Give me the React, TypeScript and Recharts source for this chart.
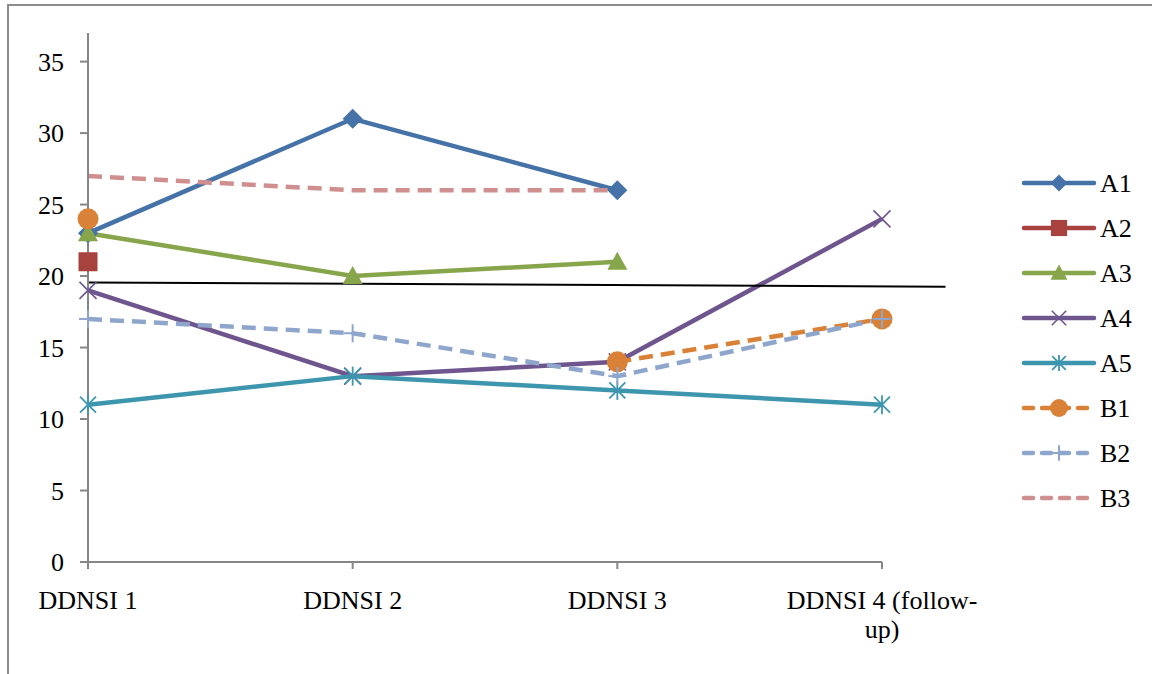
import React from 'react';
import { LineChart, Line, XAxis, YAxis, ReferenceLine } from 'recharts';

// categories (x index -> label lines)
const categories = ['DDNSI 1', 'DDNSI 2', 'DDNSI 3', 'DDNSI 4 (follow-up)'];
const categoryLines = [['DDNSI 1'], ['DDNSI 2'], ['DDNSI 3'], ['DDNSI 4 (follow-', 'up)']];

// series values, null = no measurement
const a1 = [23, 31, 26, null];
const a2 = [21, null, null, null];
const a3 = [23, 20, 21, null];
const a4 = [19, 13, 14, 24];
const a5 = [11, 13, 12, 11];
const b1 = [24, null, 14, 17];
const b2 = [17, 16, 13, 17];
const b3 = [27, 26, 26, null];

const yTicks = [0, 5, 10, 15, 20, 25, 30, 35];

// hand-drawn black line across the chart (start / end)
const cutLine = [
  { x: 0, y: 19.55 },
  { x: 3.24, y: 19.25 },
];

const series = [
  { key: 'A1', values: a1, color: '#4572A7', shape: 'diamond', dashed: false },
  { key: 'A2', values: a2, color: '#A8423F', shape: 'square', dashed: false },
  { key: 'A3', values: a3, color: '#87A54B', shape: 'triangle', dashed: false },
  { key: 'A4', values: a4, color: '#6E558E', shape: 'x', dashed: false },
  { key: 'A5', values: a5, color: '#3E96AE', shape: 'asterisk', dashed: false },
  { key: 'B1', values: b1, color: '#DA8138', shape: 'circle', dashed: true },
  { key: 'B2', values: b2, color: '#8FA6CC', shape: 'plus', dashed: true },
  { key: 'B3', values: b3, color: '#CF8F8E', shape: 'none', dashed: true },
];

const data = categories.map((name, i) => {
  const row: any = { idx: i, name };
  series.forEach((s) => {
    row[s.key] = s.values[i];
  });
  return row;
});

const FONT = '"Liberation Serif", "Times New Roman", serif';

function marker(shape: string, cx: number, cy: number, color: string, k = 1) {
  const h = 10 * k;
  switch (shape) {
    case 'diamond':
      return <polygon points={`${cx},${cy - h} ${cx + h},${cy} ${cx},${cy + h} ${cx - h},${cy}`} fill={color} />;
    case 'square':
      return <rect x={cx - 9.5 * k} y={cy - 9.5 * k} width={19 * k} height={19 * k} fill={color} />;
    case 'triangle':
      return <polygon points={`${cx},${cy - h} ${cx + h},${cy + 8 * k} ${cx - h},${cy + 8 * k}`} fill={color} />;
    case 'x': {
      const d = 8.5 * k;
      return (
        <g stroke={color} strokeWidth={1.6}>
          <line x1={cx - d} y1={cy - d} x2={cx + d} y2={cy + d} />
          <line x1={cx - d} y1={cy + d} x2={cx + d} y2={cy - d} />
        </g>
      );
    }
    case 'asterisk': {
      const d = 8 * k;
      return (
        <g stroke={color} strokeWidth={1.8}>
          <line x1={cx - d} y1={cy - d} x2={cx + d} y2={cy + d} />
          <line x1={cx - d} y1={cy + d} x2={cx + d} y2={cy - d} />
          <line x1={cx} y1={cy - 9.5 * k} x2={cx} y2={cy + 9.5 * k} />
        </g>
      );
    }
    case 'circle':
      return <circle cx={cx} cy={cy} r={10.5 * k} fill={color} />;
    case 'plus': {
      const d = 9 * k;
      return (
        <g stroke={color} strokeWidth={2}>
          <line x1={cx - d} y1={cy} x2={cx + d} y2={cy} />
          <line x1={cx} y1={cy - d} x2={cx} y2={cy + d} />
        </g>
      );
    }
    default:
      return null;
  }
}

const makeDot = (shape: string, color: string) => (props: any) => {
  const { cx, cy, index, value } = props;
  if (value == null || cy == null || isNaN(cy)) return <g key={`e-${index}`} />;
  return <g key={`d-${index}`}>{marker(shape, cx, cy, color)}</g>;
};

const XTick = (props: any) => {
  const { x, y, payload } = props;
  const lines = categoryLines[payload.value] || [];
  return (
    <text x={x} y={y} textAnchor="middle" fill="#000" fontSize={26} fontFamily={FONT}>
      {lines.map((l, i) => (
        <tspan key={i} x={x} dy={i === 0 ? 38 : 29}>
          {l}
        </tspan>
      ))}
    </text>
  );
};

const Legend = () => (
  <svg width={1152} height={674} style={{ position: 'absolute', left: 0, top: 0, pointerEvents: 'none' }}>
    {series.map((s, i) => {
      const y = 183 + i * 45;
      return (
        <g key={s.key}>
          <line
            x1={1024}
            y1={y}
            x2={1094}
            y2={y}
            stroke={s.color}
            strokeWidth={4.5}
            strokeLinecap="round"
            strokeDasharray={s.dashed ? '9 9' : undefined}
          />
          {marker(s.shape, 1059, y, s.color, 0.85)}
          <text x={1100} y={y + 9} fontSize={26} fontFamily={FONT} fill="#000">
            {s.key}
          </text>
        </g>
      );
    })}
  </svg>
);

export default function App() {
  return (
    <div style={{ position: 'absolute', left: 0, top: 0, width: 1152, height: 674, background: '#fff', overflow: 'hidden' }}>
      <div
        style={{
          position: 'absolute',
          left: 7,
          top: 4,
          width: 1200,
          height: 700,
          borderLeft: '2px solid #8c8c8c',
          borderTop: '2px solid #8c8c8c',
        }}
      />
      <LineChart
        width={1152}
        height={674}
        data={data}
        margin={{ top: 33, right: 270, left: 28, bottom: 52 }}
        style={{ position: 'absolute', left: 0, top: 0 }}
      >
        <XAxis
          dataKey="idx"
          type="number"
          domain={[0, 3]}
          ticks={[0, 1, 2, 3]}
          interval={0}
          height={60}
          axisLine={{ stroke: '#868686', strokeWidth: 2 }}
          tickLine={{ stroke: '#868686', strokeWidth: 2 }}
          tickSize={7}
          tick={<XTick />}
        />
        <YAxis
          domain={[0, 37]}
          ticks={yTicks}
          width={60}
          interval={0}
          axisLine={{ stroke: '#868686', strokeWidth: 2 }}
          tickLine={{ stroke: '#868686', strokeWidth: 2 }}
          tickSize={8}
          tickMargin={16}
          tick={{ fill: '#000', fontSize: 26, fontFamily: FONT }}
        />
        {series.map((s) => (
          <Line
            key={s.key}
            dataKey={s.key}
            stroke={s.color}
            strokeWidth={4.5}
            strokeDasharray={s.dashed ? '14 8' : undefined}
            dot={makeDot(s.shape, s.color)}
            activeDot={false}
            connectNulls={false}
            isAnimationActive={false}
          />
        ))}
        <ReferenceLine segment={cutLine} stroke="#000" strokeWidth={2} ifOverflow="visible" />
      </LineChart>
      <Legend />
    </div>
  );
}
